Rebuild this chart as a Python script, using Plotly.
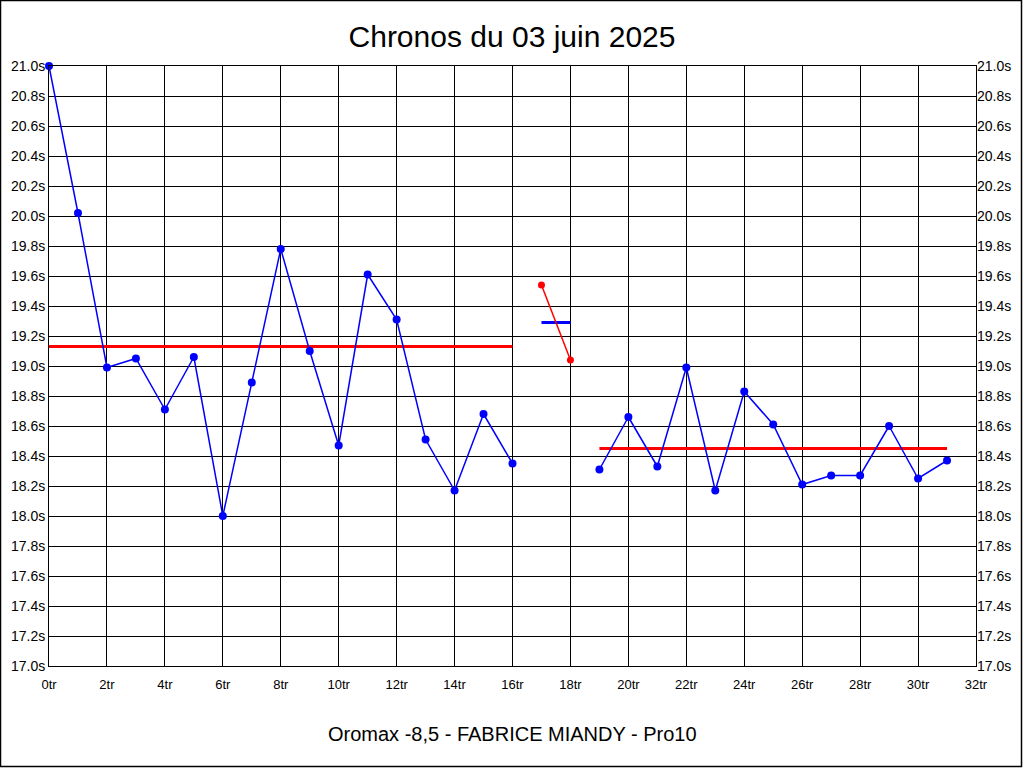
import plotly.graph_objects as go

# Data
laps_a = list(range(0, 17))
times_a = [21.00, 20.02, 18.99, 19.05, 18.71, 19.06, 18.00, 18.89, 19.78,
           19.10, 18.47, 19.61, 19.31, 18.51, 18.17, 18.68, 18.35]
laps_b = [17, 18]
times_b = [19.54, 19.04]
laps_c = list(range(19, 32))
times_c = [18.31, 18.66, 18.33, 18.99, 18.17, 18.83, 18.61, 18.21, 18.27,
           18.27, 18.60, 18.25, 18.37]
mean_a = 19.13
mean_b = 19.29
mean_c = 18.45

title_text = "Chronos du 03 juin 2025"
subtitle_text = "Oromax -8,5 - FABRICE MIANDY - Pro10"

W, H = 1024, 768
L, R, T, B = 49, 48, 66, 102
pw, ph = W - L - R, H - T - B

fig = go.Figure()

def px_x(p):
    return (p - L) / pw

def px_y(p):
    return (H - B - p) / ph

# mean lines
fig.add_trace(go.Scatter(x=[laps_a[0], laps_a[-1]], y=[mean_a, mean_a], mode="lines",
                         line=dict(color="#ff0000", width=3), hoverinfo="skip", showlegend=False))
fig.add_trace(go.Scatter(x=[laps_b[0], laps_b[-1]], y=[mean_b, mean_b], mode="lines",
                         line=dict(color="#0000ff", width=3), hoverinfo="skip", showlegend=False))
fig.add_trace(go.Scatter(x=[laps_c[0], laps_c[-1]], y=[mean_c, mean_c], mode="lines",
                         line=dict(color="#ff0000", width=3), hoverinfo="skip", showlegend=False))

# series
fig.add_trace(go.Scatter(x=laps_a, y=times_a, mode="lines+markers", cliponaxis=False,
                         line=dict(color="#0000ff", width=1.5),
                         marker=dict(color="#0000ff", size=8), showlegend=False))
fig.add_trace(go.Scatter(x=laps_b, y=times_b, mode="lines+markers", cliponaxis=False,
                         line=dict(color="#ff0000", width=1.5),
                         marker=dict(color="#ff0000", size=7), showlegend=False))
fig.add_trace(go.Scatter(x=laps_c, y=times_c, mode="lines+markers", cliponaxis=False,
                         line=dict(color="#0000ff", width=1.5),
                         marker=dict(color="#0000ff", size=8), showlegend=False))
# invisible trace for right axis
fig.add_trace(go.Scatter(x=[0], y=[21], yaxis="y2", mode="markers",
                         marker=dict(opacity=0), hoverinfo="skip", showlegend=False))

ytick_font = dict(family="Liberation Sans, Arial", size=14, color="#000000")
xtick_font = dict(family="Liberation Sans Narrow, Arial Narrow, Liberation Sans, Arial", size=13, color="#000000")

fig.update_layout(
    width=W, height=H,
    margin=dict(l=L, r=R, t=T, b=B, autoexpand=False),
    paper_bgcolor="white", plot_bgcolor="white",
    title=dict(text=title_text, x=0.5, xanchor="center", y=1 - 36 / H, yanchor="middle",
               font=dict(family="Liberation Sans, Arial", size=30, color="#000000")),
    xaxis=dict(range=[0, 32], dtick=2, tick0=0, ticksuffix="tr",
               showgrid=True, gridcolor="#000000", gridwidth=1,
               showline=True, linecolor="#000000", linewidth=1, mirror=True,
               ticks="", ticklabelstandoff=6, zeroline=False, tickfont=xtick_font),
    yaxis=dict(range=[17, 21], dtick=0.2, tick0=17, tickformat=".1f", ticksuffix="s",
               showgrid=True, gridcolor="#000000", gridwidth=1,
               showline=True, linecolor="#000000", linewidth=1, mirror=True,
               ticks="", zeroline=False, tickfont=ytick_font),
    yaxis2=dict(range=[17, 21], dtick=0.2, tick0=17, tickformat=".1f", ticksuffix="s",
                overlaying="y", side="right", showgrid=False, zeroline=False,
                ticks="", tickfont=ytick_font),
    annotations=[dict(text=subtitle_text, xref="paper", yref="paper",
                      x=0.5, y=px_y(734), xanchor="center", yanchor="middle",
                      showarrow=False,
                      font=dict(family="Liberation Sans, Arial", size=20, color="#000000"))],
    shapes=[dict(type="rect", xref="paper", yref="paper",
                 x0=px_x(0.5), x1=px_x(1021.5), y0=px_y(766.5), y1=px_y(0.5),
                 line=dict(color="#000000", width=1.5), fillcolor="rgba(0,0,0,0)", layer="above")],
)

fig.write_html("out.html", config={"displayModeBar": False},
               post_script="document.body.style.margin='0';")
